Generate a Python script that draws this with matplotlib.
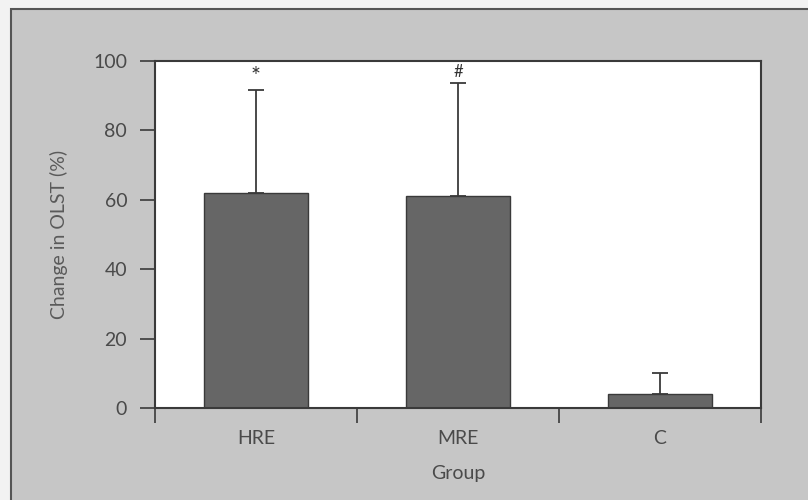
import matplotlib
matplotlib.use("Agg")
import matplotlib.pyplot as plt
from matplotlib.patches import Rectangle

# group means and upper error (SD) for change in OLST
groups = ["HRE", "MRE", "C"]
change = [62, 61, 4]
sd = [29.5, 32.8, 6.1]
marks = ["*", "#", ""]

plt.rcParams["font.family"] = ["Lato", "DejaVu Sans"]
text_col = "#4a4a4a"
line_col = "#3a3a3a"

fig = plt.figure(figsize=(8.08, 5.0), dpi=100, facecolor="#f2f2f2")

# grey panel behind the plot with a dark outline
panel = Rectangle((11 / 808, -0.05), 1.0, 1 - 9 / 500 + 0.05, transform=fig.transFigure,
                  facecolor="#c6c6c6", edgecolor="#555555", linewidth=1.5, zorder=-1)
fig.patches.append(panel)

ax = fig.add_axes([155 / 808, 92 / 500, 606 / 808, 347 / 500])
ax.set_facecolor("white")

x = list(range(len(groups)))
ax.bar(x, change, width=0.51, color="#666666", edgecolor="#3a3a3a", linewidth=1.0, zorder=2)
ax.errorbar(x, change, yerr=[[0] * len(sd), sd], fmt="none", ecolor=line_col,
            elinewidth=1.3, capsize=5.5, capthick=1.3, zorder=1)

# significance marks above the error bars
for xi, m in zip(x, marks):
    if m == "*":
        ax.text(xi, 95.5, m, ha="center", va="center", fontsize=17, color="#333333")
    elif m:
        ax.text(xi, 96.8, m, ha="center", va="center", fontsize=12, color="#333333")

ax.set_xlim(-0.5, 2.5)
ax.set_ylim(0, 100)

ax.set_yticks([0, 20, 40, 60, 80, 100])
ax.tick_params(axis="y", direction="out", length=11, width=1.2, color=line_col,
               labelsize=14, labelcolor=text_col, pad=9)

# ticks on category boundaries, labels at category centres
ax.set_xticks([-0.5, 0.5, 1.5, 2.5])
ax.set_xticklabels([])
ax.set_xticks(x, minor=True)
ax.set_xticklabels(groups, minor=True)
ax.tick_params(axis="x", which="major", direction="out", length=11, width=1.2, color=line_col)
ax.tick_params(axis="x", which="minor", length=0, labelsize=14, labelcolor=text_col, pad=16)

for s in ax.spines.values():
    s.set_linewidth(1.5)
    s.set_color(line_col)

ax.set_ylabel("Change in OLST (%)", fontsize=14, color="#5a5a5a", labelpad=18)
ax.set_xlabel("Group", fontsize=14, color=text_col, labelpad=13)

fig.savefig("out.png", dpi=100, facecolor=fig.get_facecolor())
